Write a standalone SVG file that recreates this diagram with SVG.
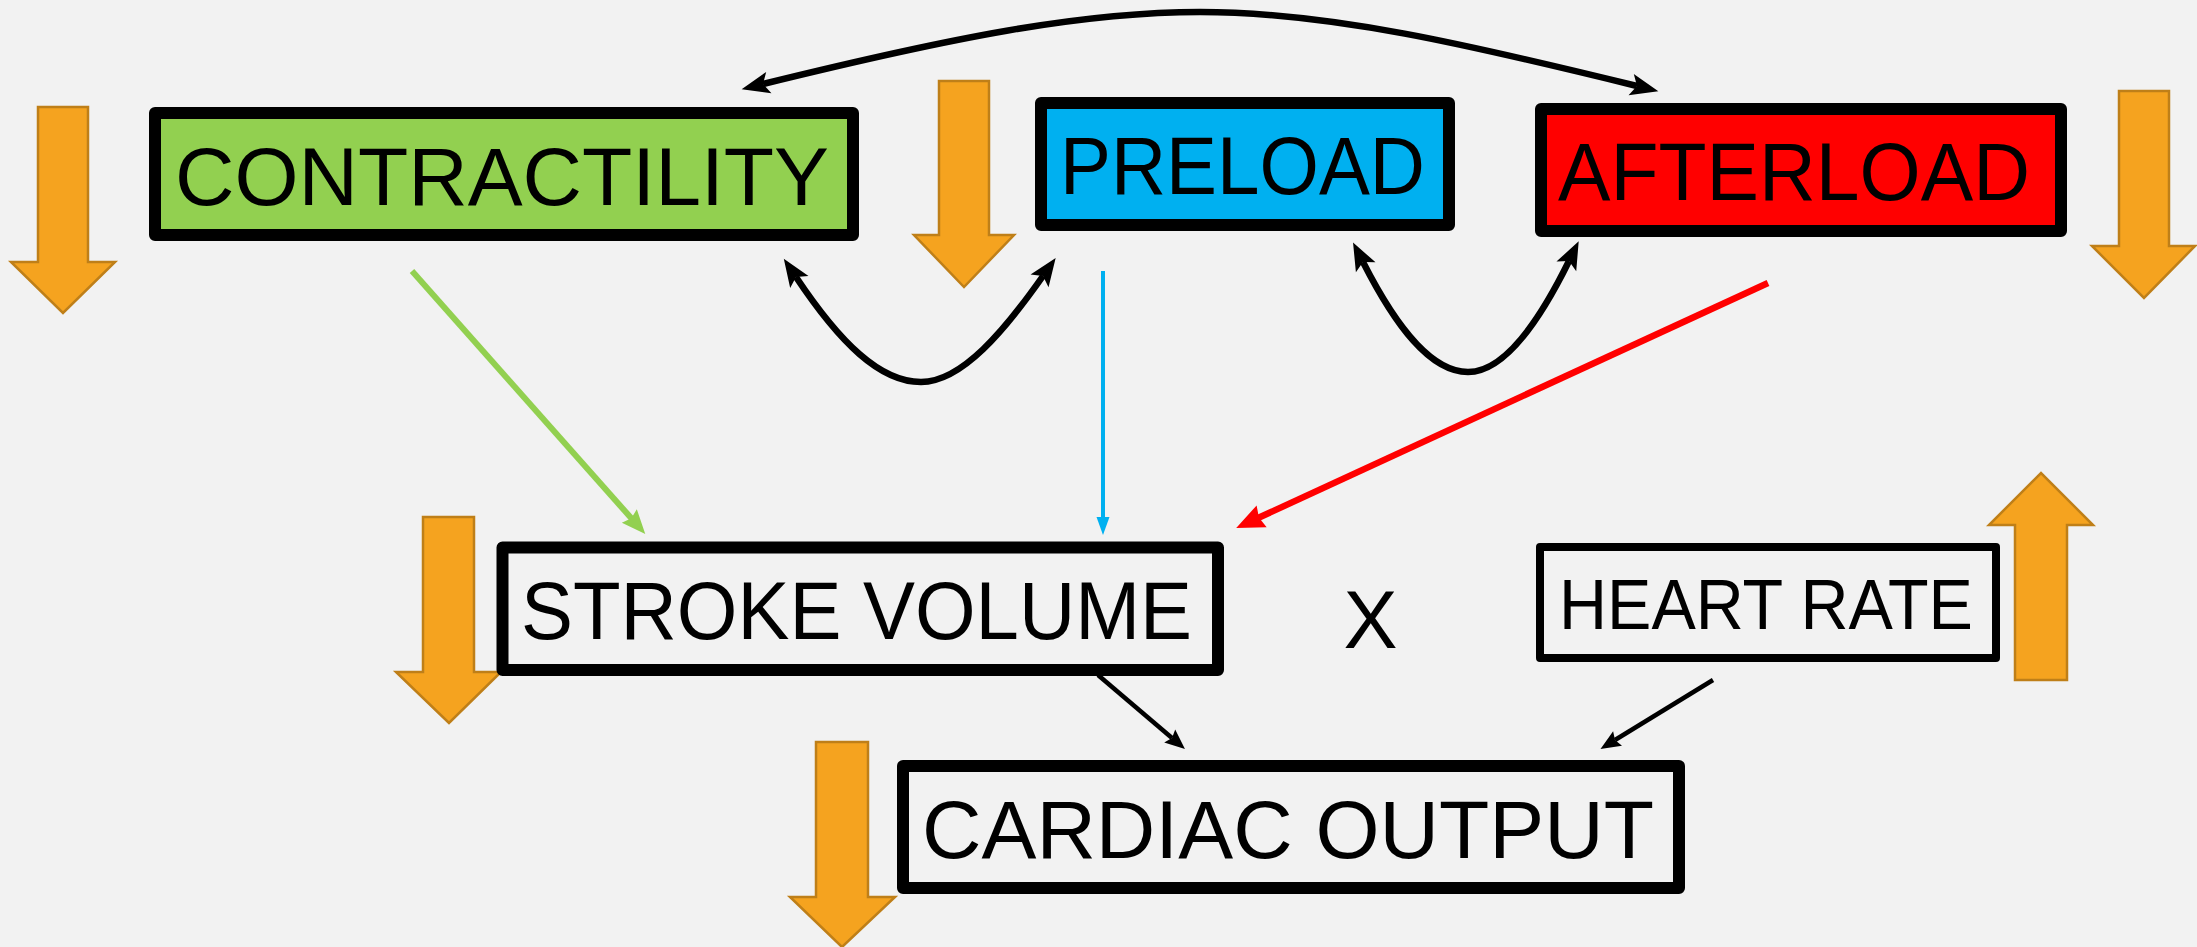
<svg xmlns="http://www.w3.org/2000/svg" width="2197" height="947" viewBox="0 0 2197 947">
<style>
.box{stroke:#000;stroke-width:12;stroke-linejoin:round}
.lbl{font-family:"Liberation Sans",Arial,sans-serif;fill:#000}
.down{fill:#f5a31f;stroke:#bf7f18;stroke-width:2.5}
.curve{fill:none;stroke:#000;stroke-width:6.5}
</style>
<defs>
<marker id="ahBlack" markerUnits="userSpaceOnUse" viewBox="-1 -13 31 26" markerWidth="31" markerHeight="26" refX="6" refY="0" orient="auto-start-reverse">
<path d="M0,-11 L28,0 L0,11 L6,0 Z" fill="#000"/>
</marker>
<marker id="ahSmall" markerUnits="userSpaceOnUse" viewBox="-1 -10 24 20" markerWidth="24" markerHeight="20" refX="3" refY="0" orient="auto">
<path d="M0,-8.5 L20,0 L0,8.5 L3,0 Z" fill="#000"/>
</marker>
<marker id="ahGreen" markerUnits="userSpaceOnUse" viewBox="-1 -11 27 22" markerWidth="27" markerHeight="22" refX="4" refY="0" orient="auto">
<path d="M0,-10 L24,0 L0,10 L3,0 Z" fill="#92d050"/>
</marker>
<marker id="ahBlue" markerUnits="userSpaceOnUse" viewBox="-1 -8 21 16" markerWidth="21" markerHeight="16" refX="2" refY="0" orient="auto">
<path d="M0,-6.5 L18,0 L0,6.5 Z" fill="#00b0f0"/>
</marker>
<marker id="ahRed" markerUnits="userSpaceOnUse" viewBox="-1 -13 31 26" markerWidth="31" markerHeight="26" refX="4" refY="0" orient="auto">
<path d="M0,-12 L28,0 L0,12 L3,0 Z" fill="#ff0000"/>
</marker>
</defs>
<rect x="0" y="0" width="2197" height="947" fill="#f2f2f2"/>

<g id="decrease-arrows">
<polygon class="down" points="38,107 88,107 88,262 115,262 63,313 11,262 38,262"/>
<polygon class="down" points="939,81 989,81 989,235 1014,235 964,287 914,235 939,235"/>
<polygon class="down" points="2119,91 2169,91 2169,246 2195,246 2144,298 2092,246 2119,246"/>
<polygon class="down" points="423,517 474,517 474,672 501,672 449,723 396,672 423,672"/>
<polygon class="down" points="816,742 868,742 868,897 895,897 842,947 790,897 816,897"/>
</g>
<g id="increase-arrow">
<polygon class="down" points="2015,680 2067,680 2067,525 2093,525 2041,473 1989,525 2015,525"/>
</g>

<g id="connectors">
<path class="curve" d="M763,84 C950,38 1080,12 1200,12 C1330,12 1470,45 1637,86" marker-start="url(#ahBlack)" marker-end="url(#ahBlack)"/>
<path class="curve" d="M796,277 C840,343 880,382 921,382 C962,382 1005,330 1043,276" marker-start="url(#ahBlack)" marker-end="url(#ahBlack)"/>
<path class="curve" d="M1363,262 C1395,325 1430,372 1468,372 C1505,372 1540,320 1569,261" marker-start="url(#ahBlack)" marker-end="url(#ahBlack)"/>
<line x1="412" y1="271" x2="632" y2="519" stroke="#92d050" stroke-width="6" marker-end="url(#ahGreen)"/>
<line x1="1103" y1="271" x2="1103" y2="519" stroke="#00b0f0" stroke-width="4" marker-end="url(#ahBlue)"/>
<line x1="1768" y1="283" x2="1258" y2="518" stroke="#ff0000" stroke-width="6.5" marker-end="url(#ahRed)"/>
<line x1="1098" y1="675" x2="1172" y2="738" stroke="#000" stroke-width="4.5" marker-end="url(#ahSmall)"/>
<line x1="1713" y1="680" x2="1615" y2="740" stroke="#000" stroke-width="4.5" marker-end="url(#ahSmall)"/>
</g>

<g id="contractility">
<rect class="box" x="155" y="113" width="698" height="122" fill="#92d050"/>
<text class="lbl" x="175" y="205" font-size="82" textLength="654" lengthAdjust="spacingAndGlyphs">CONTRACTILITY</text>
</g>
<g id="preload">
<rect class="box" x="1041" y="103" width="408" height="122" fill="#00b0f0"/>
<text class="lbl" x="1060" y="194" font-size="81" textLength="365" lengthAdjust="spacingAndGlyphs">PRELOAD</text>
</g>
<g id="afterload">
<rect class="box" x="1541" y="109" width="520" height="122" fill="#ff0000"/>
<text class="lbl" x="1558" y="200" font-size="81" textLength="472" lengthAdjust="spacingAndGlyphs">AFTERLOAD</text>
</g>
<g id="stroke-volume">
<rect class="box" x="502.5" y="547.5" width="715.5" height="122.5" fill="#f2f2f2"/>
<text class="lbl" x="521" y="639" font-size="82" textLength="671" lengthAdjust="spacingAndGlyphs">STROKE VOLUME</text>
</g>
<g id="times">
<text class="lbl" x="1370.5" y="648" font-size="81" text-anchor="middle">X</text>
</g>
<g id="heart-rate">
<rect x="1540" y="547" width="456" height="111" fill="#f2f2f2" stroke="#000" stroke-width="8" stroke-linejoin="round"/>
<text class="lbl" x="1559" y="629" font-size="71" textLength="414" lengthAdjust="spacingAndGlyphs">HEART RATE</text>
</g>
<g id="cardiac-output">
<rect class="box" x="903" y="766" width="776" height="122" fill="#f2f2f2"/>
<text class="lbl" x="922" y="858" font-size="82" textLength="732" lengthAdjust="spacingAndGlyphs">CARDIAC OUTPUT</text>
</g>
</svg>
